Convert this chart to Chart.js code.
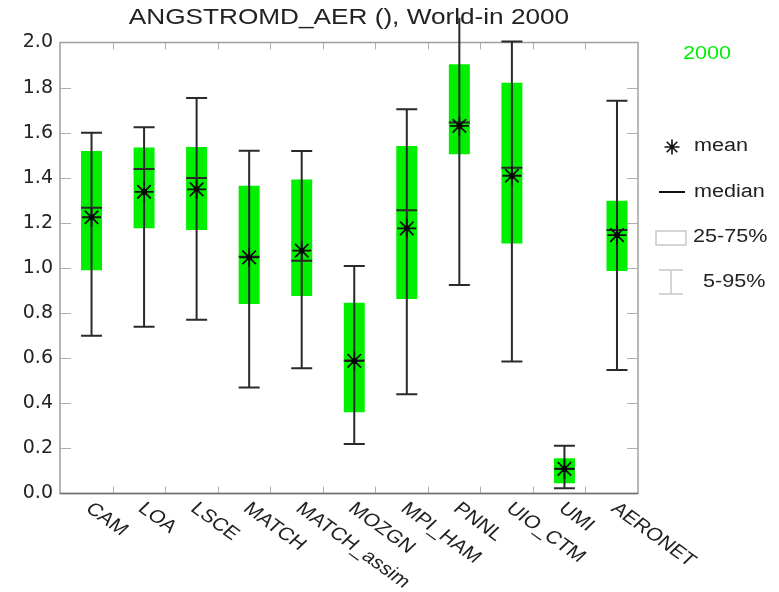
<!DOCTYPE html>
<html>
<head>
<meta charset="utf-8">
<script src="https://cdn.jsdelivr.net/npm/chart.js@4.4.1/dist/chart.umd.min.js"></script>
<style>
  html, body { margin: 0; padding: 0; background: #fff; }
  #wrap { width: 779px; height: 592px; position: relative; }
</style>
</head>
<body>
<div id="wrap"><canvas id="chart"></canvas></div>
<script>
// Angstrom exponent statistics per model, world, year 2000
const models = ['CAM', 'LOA', 'LSCE', 'MATCH', 'MATCH_assim', 'MOZGN', 'MPI_HAM', 'PNNL', 'UIO_CTM', 'UMI', 'AERONET'];
const p05    = [0.70, 0.74, 0.77, 0.47, 0.555, 0.22, 0.44, 0.925, 0.585, 0.023, 0.548];
const p25    = [0.99, 1.176, 1.168, 0.84, 0.876, 0.36, 0.863, 1.504, 1.109, 0.045, 0.987];
const median = [1.267, 1.439, 1.399, 1.05, 1.032, 0.59, 1.256, 1.645, 1.445, 0.11, 1.169];
const mean   = [1.225, 1.338, 1.349, 1.047, 1.077, 0.588, 1.176, 1.63, 1.409, 0.109, 1.146];
const p75    = [1.519, 1.534, 1.537, 1.365, 1.393, 0.846, 1.541, 1.903, 1.822, 0.156, 1.298];
const p95    = [1.60, 1.624, 1.754, 1.52, 1.519, 1.009, 1.704, 2.11, 2.004, 0.212, 1.742];

const titleText = 'ANGSTROMD_AER (), World-in 2000';
const yearLabel = '2000';
const legendLabels = ['mean', 'median', '25-75%', '5-95%'];

const yMin = 0, yMax = 2.0, yStep = 0.2;

// each model occupies one unit on the x axis; the box sits at 0.6 of its slot
const SLOT = 0.6;
const BOX_W = 21;
const TEXT_SX = 1.2;
const FONT = '"Liberation Sans", Arial, sans-serif';

function drawText(ctx, text, x, y, opts) {
  ctx.save();
  ctx.translate(x, y);
  ctx.scale(opts.sx || 1, 1);
  if (opts.rotate) ctx.rotate(opts.rotate);
  ctx.font = opts.font;
  ctx.fillStyle = opts.color || '#222';
  ctx.textAlign = opts.align || 'left';
  ctx.textBaseline = opts.baseline || 'middle';
  ctx.fillText(text, 0, 0);
  ctx.restore();
}

function drawStar(ctx, x, y, r) {
  const d = r * Math.SQRT1_2;
  ctx.beginPath();
  ctx.moveTo(x - r, y); ctx.lineTo(x + r, y);
  ctx.moveTo(x, y - r); ctx.lineTo(x, y + r);
  ctx.moveTo(x - d, y - d); ctx.lineTo(x + d, y + d);
  ctx.moveTo(x - d, y + d); ctx.lineTo(x + d, y - d);
  ctx.stroke();
}

const boxPlotPlugin = {
  id: 'boxPlotDecor',
  beforeDatasetsDraw(chart) {
    const { ctx, chartArea: a, scales: { x, y } } = chart;
    ctx.save();
    // inward tick marks on all four sides
    ctx.strokeStyle = '#b0b0b0';
    ctx.lineWidth = 1;
    ctx.beginPath();
    y.ticks.forEach(t => {
      if (t.value <= yMin || t.value >= yMax) return;
      const py = Math.round(y.getPixelForValue(t.value)) + 0.5;
      ctx.moveTo(a.left, py); ctx.lineTo(a.left + 11, py);
      ctx.moveTo(a.right, py); ctx.lineTo(a.right - 11, py);
    });
    for (let i = 1; i < models.length; i++) {
      const px = Math.round(x.getPixelForValue(i)) + 0.5;
      ctx.moveTo(px, a.bottom); ctx.lineTo(px, a.bottom - 7);
      ctx.moveTo(px, a.top); ctx.lineTo(px, a.top + 7);
    }
    ctx.stroke();
    // frame
    ctx.strokeStyle = '#a0a0a0';
    ctx.lineWidth = 1.5;
    ctx.strokeRect(a.left, a.top, a.right - a.left, a.bottom - a.top);
    ctx.strokeStyle = '#707070';
    ctx.beginPath();
    ctx.moveTo(a.left, a.bottom); ctx.lineTo(a.right, a.bottom);
    ctx.stroke();
    ctx.restore();
  },
  afterDatasetDraw(chart, args) {
    if (args.index !== 0) return;
    const { ctx, scales: { x, y } } = chart;
    ctx.save();
    ctx.strokeStyle = '#2a2a2a';
    ctx.lineWidth = 2;
    ctx.lineCap = 'butt';
    models.forEach((m, i) => {
      const px = x.getPixelForValue(i + SLOT);
      const lo = y.getPixelForValue(p05[i]);
      const hi = y.getPixelForValue(p95[i]);
      ctx.beginPath();
      ctx.moveTo(px, lo); ctx.lineTo(px, hi);
      ctx.moveTo(px - BOX_W / 2, lo); ctx.lineTo(px + BOX_W / 2, lo);
      if (p95[i] <= yMax + 0.05) {
        ctx.moveTo(px - BOX_W / 2, hi); ctx.lineTo(px + BOX_W / 2, hi);
      }
      const md = y.getPixelForValue(median[i]);
      ctx.moveTo(px - BOX_W / 2, md); ctx.lineTo(px + BOX_W / 2, md);
      ctx.stroke();
    });
    ctx.restore();
  },
  afterDraw(chart) {
    const { ctx, chartArea: a, scales: { x } } = chart;
    // title, centred over the plot
    drawText(ctx, titleText, (a.left + a.right) / 2, 18,
      { font: '22px ' + FONT, sx: 1.19, align: 'center' });
    // slanted model names under the axis
    models.forEach((m, i) => {
      const px = x.getPixelForValue(i + SLOT) + 4;
      drawText(ctx, m, px, a.bottom + 6,
        { font: '18px ' + FONT, sx: TEXT_SX, rotate: 41 * Math.PI / 180, baseline: 'top' });
    });
    // key on the right
    const lx = a.right;
    drawText(ctx, yearLabel, lx + 45, 54, { font: '18px ' + FONT, sx: TEXT_SX, color: '#00f000' });
    ctx.save();
    ctx.strokeStyle = '#111';
    ctx.lineWidth = 1.6;
    drawStar(ctx, lx + 34, 147, 7.5);
    ctx.lineWidth = 2;
    ctx.beginPath();
    ctx.moveTo(lx + 21, 192); ctx.lineTo(lx + 47, 192);
    ctx.stroke();
    ctx.strokeStyle = '#c8c8c8';
    ctx.lineWidth = 1.5;
    ctx.strokeRect(lx + 18, 231, 30, 14);
    ctx.beginPath();
    ctx.moveTo(lx + 33, 270); ctx.lineTo(lx + 33, 294);
    ctx.moveTo(lx + 21, 270); ctx.lineTo(lx + 45, 270);
    ctx.moveTo(lx + 21, 294); ctx.lineTo(lx + 45, 294);
    ctx.stroke();
    ctx.restore();
    const keyY = [146, 192, 237, 282];
    const keyX = [56, 56, 55, 65];
    legendLabels.forEach((t, k) => {
      drawText(ctx, t, lx + keyX[k], keyY[k], { font: '18px ' + FONT, sx: TEXT_SX });
    });
  }
};

const xs = models.map((m, i) => i + SLOT);

new Chart(document.getElementById('chart'), {
  type: 'bar',
  data: {
    datasets: [
      {
        type: 'bar',
        label: '25-75%',
        data: models.map((m, i) => ({ x: xs[i], y: [p25[i], p75[i]] })),
        backgroundColor: '#00f000',
        borderWidth: 0,
        barThickness: BOX_W,
        inflateAmount: 0,
        order: 3
      },
      {
        type: 'scatter',
        label: 'mean',
        data: models.map((m, i) => ({ x: xs[i], y: mean[i] })),
        pointStyle: 'star',
        pointRadius: 9.5,
        borderColor: '#111',
        backgroundColor: 'rgba(0,0,0,0)',
        borderWidth: 1.8,
        order: 2
      },
      {
        type: 'scatter',
        label: 'mean centre',
        data: models.map((m, i) => ({ x: xs[i], y: mean[i] })),
        pointStyle: 'circle',
        pointRadius: 2.8,
        backgroundColor: '#000',
        borderWidth: 0,
        order: 1
      }
    ]
  },
  options: {
    responsive: true,
    maintainAspectRatio: false,
    animation: false,
    events: [],
    layout: { padding: { top: 42.5, right: 141, left: 0, bottom: 0 } },
    plugins: { legend: { display: false }, tooltip: { enabled: false }, title: { display: false } },
    scales: {
      x: {
        type: 'linear',
        offset: false,
        min: 0,
        max: models.length,
        ticks: { display: false },
        grid: { display: false, drawTicks: false, offset: false },
        border: { display: false },
        afterFit(scale) { scale.height = 98.5; }
      },
      y: {
        type: 'linear',
        min: yMin,
        max: yMax,
        ticks: {
          stepSize: yStep,
          padding: 7,
          color: '#222',
          font: { family: '"DejaVu Sans", sans-serif', size: 19 },
          callback: v => v.toFixed(1)
        },
        grid: { display: false, drawTicks: false },
        border: { display: false },
        afterFit(scale) { scale.width = 60; }
      }
    }
  },
  plugins: [boxPlotPlugin]
});
</script>
</body>
</html>
